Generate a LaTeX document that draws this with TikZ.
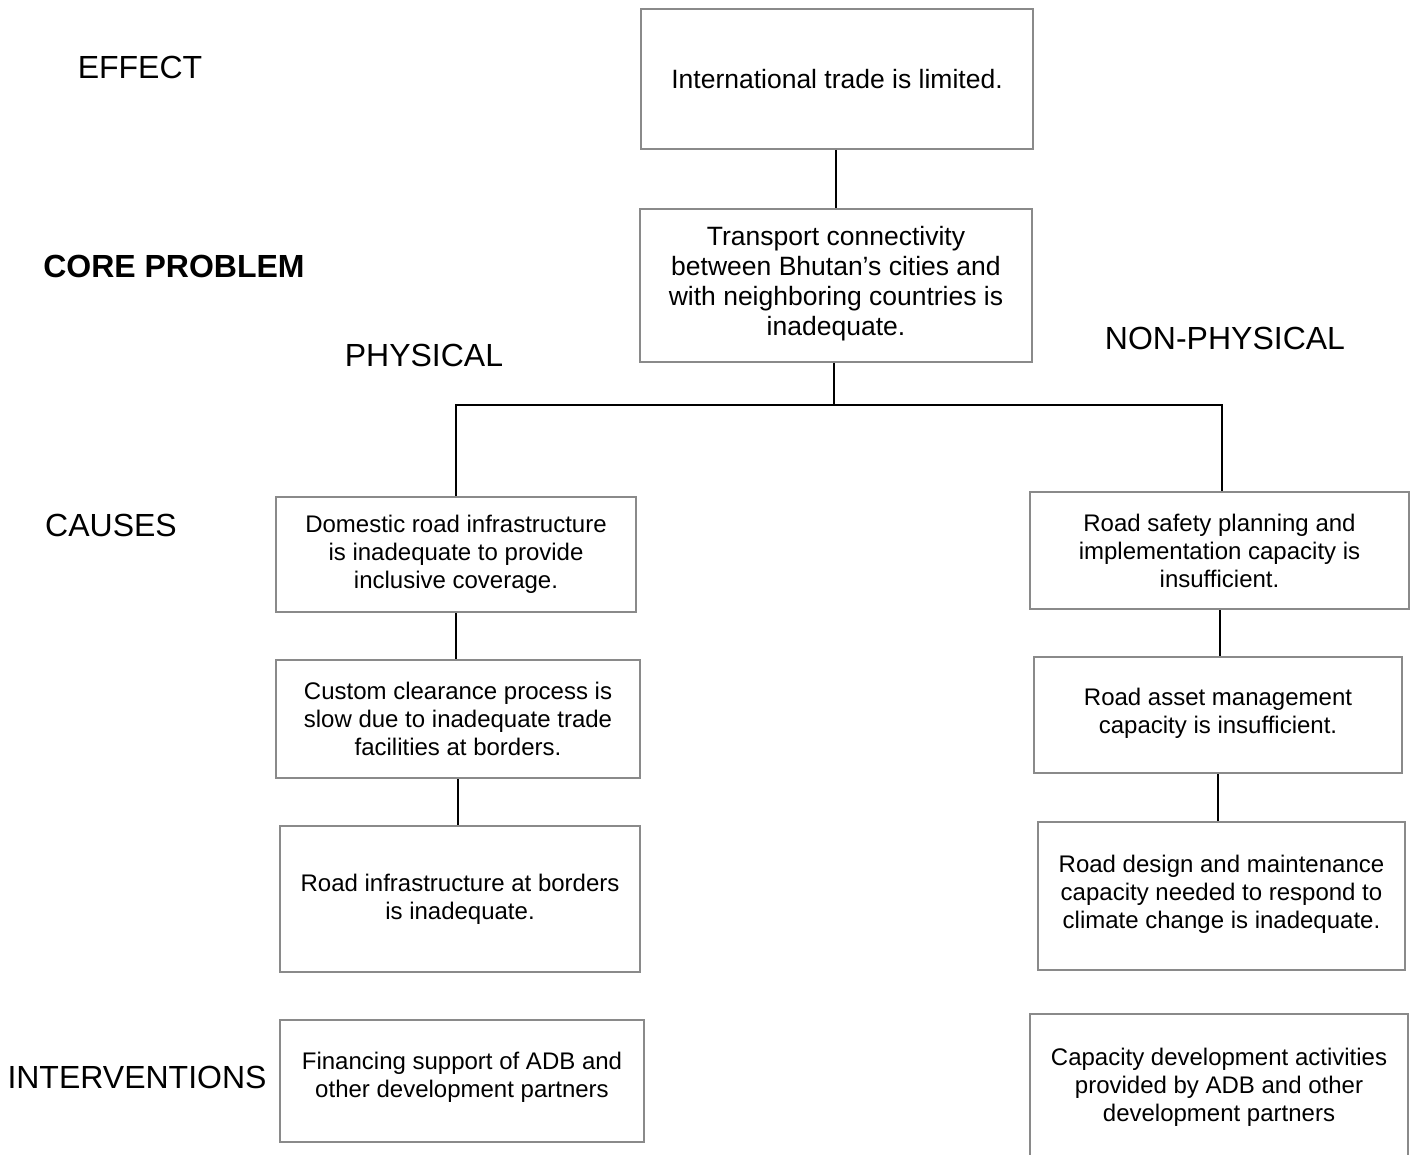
\documentclass[tikz,border=0pt]{standalone}
\usepackage{fontspec}
\setmainfont{Liberation Sans}
\definecolor{boxgray}{HTML}{8A8A8A}
\usepackage{tikz}
\usetikzlibrary{positioning, calc}

\begin{document}
\begin{tikzpicture}[x=1pt, y=-1pt,
    probbox/.style={draw=boxgray, line width=2pt, align=center, inner sep=0pt,
      font=\fontsize{24}{28}\selectfont},
    rowlabel/.style={font=\fontsize{32}{36}\selectfont},
    link/.style={black, line width=2pt}]
        \useasboundingbox (0,0) rectangle (1414,1155);
        % Row labels
        \node[rowlabel] (lbleffect) at (140,67) {EFFECT};
        \node[rowlabel, font=\fontsize{32}{36}\selectfont\bfseries] (lblcore) at (174,266) {CORE PROBLEM};
        \node[rowlabel] (lblphys) at (424,355) {PHYSICAL};
        \node[rowlabel] (lblnonphys) at (1225,338) {NON-PHYSICAL};
        \node[rowlabel] (lblcauses) at (111,525) {CAUSES};
        \node[rowlabel] (lblinterv) at (137,1077) {INTERVENTIONS};
        % Effect and core problem
        \node[probbox, font=\fontsize{26.5}{30}\selectfont, minimum width=392, minimum height=140] (effect) at (837,79)
          {International trade is limited.};
        \node[probbox, font=\fontsize{26.5}{30}\selectfont, minimum width=392, minimum height=153] (core) at (836,285.5)
          {Transport connectivity\\between Bhutan's cities and\\with neighboring countries is\\inadequate.\\[-21pt]};
        % Physical causes
        \node[probbox, minimum width=360, minimum height=115] (phys1) at (456,554.5)
          {Domestic road infrastructure\\is inadequate to provide\\inclusive coverage.};
        \node[probbox, minimum width=364, minimum height=118] (phys2) at (458,719)
          {Custom clearance process is\\slow due to inadequate trade\\facilities at borders.};
        \node[probbox, minimum width=360, minimum height=146] (phys3) at (460,899)
          {Road infrastructure at borders\\is inadequate.};
        % Non-physical causes
        \node[probbox, minimum width=379, minimum height=117] (nonphys1) at (1219.5,550.5)
          {Road safety planning and\\implementation capacity is\\insufficient.};
        \node[probbox, minimum width=368, minimum height=116] (nonphys2) at (1218,715)
          {Road asset management\\capacity is insufficient.\\[-20pt]};
        \node[probbox, minimum width=367, minimum height=148] (nonphys3) at (1221.5,896)
          {Road design and maintenance\\capacity needed to respond to\\climate change is inadequate.\\[-19pt]};
        % Interventions
        \node[probbox, minimum width=364, minimum height=122] (finsupport) at (462,1081)
          {Financing support of ADB and\\other development partners\\[-15pt]};
        \node[probbox, draw=none, minimum width=376, minimum height=150] (capdev) at (1219,1090)
          {Capacity development activities\\provided by ADB and other\\development partners\\[-18pt]};
        \draw[boxgray, line width=2pt] (capdev.south west) -- (capdev.north west)
          -- (capdev.north east) -- (capdev.south east);
        % Connectors
        \coordinate (split) at ($(core.south)+(-2,42)$);
        \draw[link] (effect.south -| core.south) -- (core.north);
        \draw[link] ($(core.south)+(-2,0)$) -- (split);
        \draw[link] (phys1.north) |- (split) -| ($(nonphys1.north)+(2.5,0)$);
        \draw[link] (phys1.south) -- (phys1.south |- phys2.north);
        \draw[link] (phys2.south) -- (phys2.south |- phys3.north);
        \draw[link] (nonphys1.south) -- (nonphys1.south |- nonphys2.north);
        \draw[link] (nonphys2.south) -- (nonphys2.south |- nonphys3.north);
      \end{tikzpicture}
\end{document}
